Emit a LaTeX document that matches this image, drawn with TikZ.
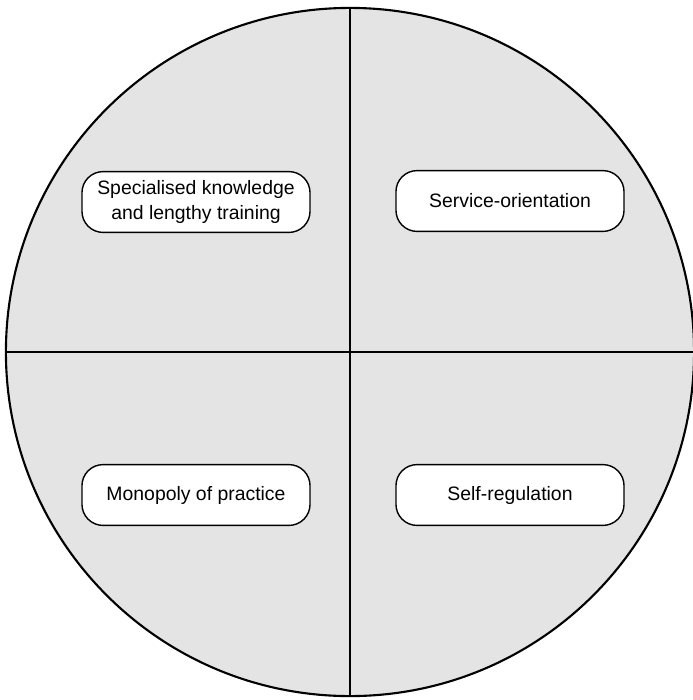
\documentclass[tikz,border=0pt]{standalone}
\usepackage{fontspec}
\setmainfont{Liberation Sans}
\usetikzlibrary{positioning}
\definecolor{DiscGray}{RGB}{228,228,228}

\begin{document}
\begin{tikzpicture}[x=0.025cm,y=-0.025cm]

\tikzset{
trait/.style={
draw,
line width=1pt,
rounded corners=15pt,
fill=white,
minimum width=5.7cm,
minimum height=1.52cm,
align=center,
font=\fontsize{13.8}{17.6}\selectfont
}
}

\useasboundingbox (0,0) rectangle (693,700);

\node[circle, draw, line width=1.5pt, fill=DiscGray,
minimum size=17.2cm, inner sep=0pt] (disc) at (350,352) {};

\draw[line width=1pt] (disc.north) -- (disc.south);
\draw[line width=1pt] (disc.west) -- (disc.east);

\node[trait] (know) at (196,202)
{Specialised knowledge\\and lengthy training};

\node[trait] (serv) at (510,201)
{Service-orientation};

\node[trait] (mono) at (196,495)
{Monopoly of practice};

\node[trait] (selfreg) at (510,495)
{Self-regulation};

\end{tikzpicture}
\end{document}
